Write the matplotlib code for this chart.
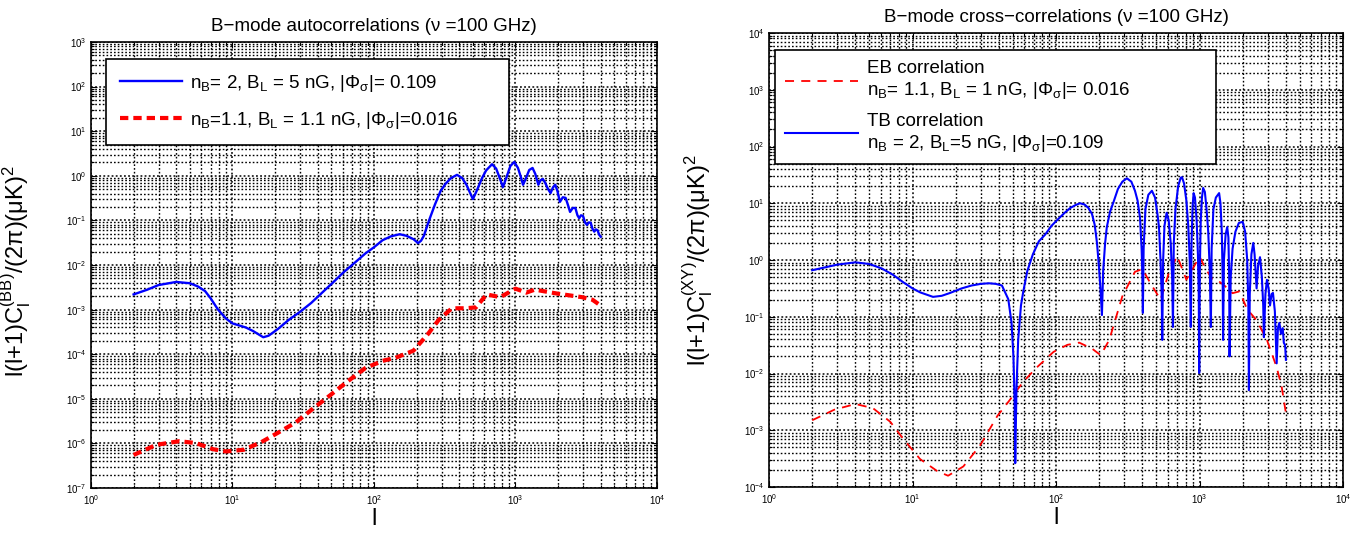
import matplotlib
matplotlib.use("Agg")
import matplotlib.pyplot as plt
from matplotlib.ticker import FixedLocator, LogFormatterMathtext, NullFormatter

plt.rcParams['font.family'] = ['Liberation Sans', 'DejaVu Sans']
plt.rcParams['mathtext.fontset'] = 'custom'
plt.rcParams['mathtext.rm'] = 'Liberation Sans'
plt.rcParams['mathtext.it'] = 'Liberation Sans:italic'
plt.rcParams['mathtext.bf'] = 'Liberation Sans:bold'
plt.rcParams['mathtext.default'] = 'regular'

# ---------------- data: left panel (BB autocorrelation) ----------------
l_bb_a = [2, 2.5, 3, 4, 5, 5.7, 6.4, 7, 7.9, 9, 10, 12.4, 14, 16.5, 18, 21, 25, 30, 36, 43,
          51, 61, 73, 87, 100, 115, 132, 152, 170, 190, 205, 215, 225, 245, 270, 295, 320,
          350, 386, 420, 450, 480, 500, 530, 580, 620, 683, 730, 780, 815, 860, 920, 980,
          1040, 1090, 1130, 1180, 1250, 1320, 1380, 1450, 1500, 1560, 1620, 1700, 1770,
          1840, 1910, 1980, 2060, 2160, 2260, 2350, 2430, 2540, 2650, 2740, 2820, 2900,
          3000, 3100, 3200, 3300, 3400, 3500, 3600, 3700, 3800, 3900, 4000]
c_bb_a = [2.19e-3, 2.8e-3, 3.55e-3, 4.17e-3, 3.9e-3, 3.3e-3, 2.6e-3, 1.8e-3, 1.0e-3,
          6.3e-4, 4.9e-4, 3.98e-4, 3.3e-4, 2.4e-4, 2.6e-4, 3.7e-4, 5.9e-4, 8.9e-4, 1.41e-3,
          2.4e-3, 3.98e-3, 6.9e-3, 1.12e-2, 1.82e-2, 2.5e-2, 3.6e-2, 4.4e-2, 4.9e-2, 4.5e-2,
          3.8e-2, 3.1e-2, 3.5e-2, 4.5e-2, 0.10, 0.23, 0.45, 0.66, 0.89, 1.05, 0.89, 0.63,
          0.40, 0.30, 0.45, 0.89, 1.32, 1.82, 1.45, 0.83, 0.56, 0.89, 1.66, 2.04, 1.51, 0.95,
          0.63, 0.85, 1.35, 1.50, 1.10, 0.63, 0.79, 0.85, 0.70, 0.50, 0.41, 0.55, 0.63, 0.45,
          0.26, 0.33, 0.32, 0.22, 0.155, 0.19, 0.19, 0.13, 0.112, 0.13, 0.126, 0.09, 0.079,
          0.09, 0.089, 0.065, 0.056, 0.063, 0.060, 0.048, 0.043]

l_bb_b = [2, 2.9, 4.2, 5.5, 7.3, 9, 12, 16, 21, 28, 37, 49, 65, 87, 115, 142, 190, 240,
          285, 355, 440, 525, 625, 780, 1000, 1190, 1370, 1950, 2950, 3500, 4000]
c_bb_b = [5.5e-7, 9.3e-7, 1.12e-6, 1.02e-6, 7.4e-7, 6.6e-7, 7.2e-7, 1.07e-6, 1.74e-6,
          2.95e-6, 6.0e-6, 1.2e-5, 2.45e-5, 4.9e-5, 7.1e-5, 8.3e-5, 1.2e-4, 2.8e-4,
          5.75e-4, 1.07e-3, 1.07e-3, 1.12e-3, 2.19e-3, 1.9e-3, 2.95e-3, 2.4e-3, 2.8e-3,
          2.3e-3, 1.9e-3, 1.66e-3, 1.23e-3]

label_bb_a = r"$n_B$= 2, $B_L$ = 5 nG, $|Φ_σ|$= 0.109" + "\u2003" * 4
label_bb_b = r"$n_B$=1.1, $B_L$ = 1.1 nG, $|Φ_σ|$=0.016"

# ---------------- data: right panel (cross-correlations) ----------------
l_eb = [2, 2.85, 4, 5.3, 7, 8.6, 11.3, 14.9, 17.7, 22.6, 29.6, 39, 48, 59, 73, 96, 120,
        145, 178, 205, 235, 290, 355, 400, 450, 535, 615, 700, 810, 900, 1000, 1100, 1220,
        1320, 1500, 1700, 1900, 2150, 2500, 2950, 3450, 3740, 4000]
c_eb = [1.5e-3, 2.3e-3, 2.9e-3, 2.45e-3, 1.41e-3, 7.1e-4, 3.1e-4, 1.9e-4, 1.58e-4, 2.3e-4,
        5.4e-4, 1.78e-3, 3.5e-3, 7.1e-3, 1.26e-2, 2.4e-2, 3.2e-2, 3.5e-2, 2.75e-2, 2.1e-2,
        3.9e-2, 0.23, 0.62, 0.69, 0.41, 0.20, 0.62, 1.17, 0.45, 0.71, 1.15, 0.71, 0.47, 0.45,
        0.35, 0.26, 0.28, 0.135, 0.087, 0.039, 0.0129, 0.0058, 0.0020]

l_tb = [2, 3, 4, 5, 6.1, 7.3, 8.6, 10, 11.3, 13.9, 16, 18.3, 22, 25.8, 30, 34, 38, 42, 46.5,
        49, 50.5, 51.5, 52, 53, 54.5, 57, 59, 63, 69, 76, 84, 93, 103, 115, 126, 137, 147,
        158, 168, 178, 186, 193, 199, 204, 209, 213, 220, 226, 238, 250, 270, 290, 312, 335,
        355, 370, 385, 395, 400, 403, 408, 420, 440, 466, 490, 510, 522, 535, 545, 550, 558,
        570, 590, 610, 630, 645, 653, 662, 680, 710, 740, 755, 780, 810, 835, 855, 870, 880,
        895, 910, 930, 955, 975, 988, 995, 1005, 1020, 1040, 1060, 1090, 1120, 1150, 1180,
        1200, 1215, 1250, 1300, 1370, 1400, 1430, 1450, 1460, 1480, 1520, 1560, 1590, 1610,
        1620, 1650, 1700, 1780, 1880, 2000, 2080, 2150, 2190, 2210, 2240, 2300, 2370, 2420,
        2500, 2560, 2640, 2720, 2780, 2810, 2880, 2950, 3030, 3100, 3180, 3250, 3350, 3450,
        3520, 3600, 3700, 3800, 3870, 3950, 4000]
c_tb = [0.66, 0.83, 0.91, 0.85, 0.71, 0.55, 0.407, 0.316, 0.269, 0.224, 0.234, 0.263, 0.316,
        0.355, 0.38, 0.389, 0.38, 0.355, 0.204, 0.079, 0.02, 3.16e-3, 2.63e-4, 5.0e-3, 3.9e-2,
        0.158, 0.269, 0.63, 1.26, 2.14, 2.8, 4.0, 5.2, 6.8, 8.3, 9.3, 10.0, 9.5, 8.3, 6.5, 4.2,
        2.0, 0.79, 0.316, 0.107, 0.63, 2.0, 3.8, 7.1, 10.0, 17.8, 24.0, 27.5, 24.0, 16.6,
        11.2, 5.6, 1.58, 0.5, 0.117, 1.58, 7.9, 14.1, 16.6, 12.6, 6.3, 3.8, 1.0, 0.251,
        0.039, 1.0, 4.0, 6.8, 5.0, 2.0, 0.5, 0.066, 2.0, 7.9, 20.0, 28.2, 28.8, 22.4, 11.2,
        4.0, 1.0, 0.066, 2.0, 8.9, 15.1, 12.6, 5.0, 1.26, 0.251, 0.0102, 0.63, 5.0, 12.6,
        18.6, 15.8, 7.9, 3.16, 0.63, 0.066, 1.58, 7.9, 12.6, 15.1, 10.0, 3.16, 0.5, 0.039,
        1.0, 2.8, 3.8, 2.5, 0.5, 0.02, 0.5, 1.58, 3.16, 4.5, 4.7, 3.16, 1.0, 0.158, 5.1e-3,
        0.251, 1.26, 2.0, 1.26, 0.316, 0.79, 1.12, 0.5, 0.158, 0.0437, 0.251, 0.447, 0.316,
        0.158, 0.251, 0.263, 0.126, 0.0151, 0.063, 0.078, 0.05, 0.063, 0.0347, 0.0316,
        0.0174]

label_eb = "EB correlation\n" + r"$n_B$= 1.1, $B_L$ = 1 nG, $|Φ_σ|$= 0.016" + "\u2003" * 5
label_tb = "TB correlation\n" + r"$n_B$ = 2, $B_L$=5 nG, $|Φ_σ|$=0.109"

title_left = "B\u2212mode autocorrelations (\u03bd =100 GHz)"
title_right = "B\u2212mode cross\u2212correlations (\u03bd =100 GHz)"
ylabel_left = r"l(l+1)C$_l^{(BB)}$/(2π)(μK)$^2$"
ylabel_right = r"l(l+1)C$_l^{(XY)}$/(2π)(μK)$^2$"

# decade exponents shown on the axes
x_decades = [0, 1, 2, 3, 4]
y_decades_left = [-7, -6, -5, -4, -3, -2, -1, 0, 1, 2, 3]
y_decades_right = [-4, -3, -2, -1, 0, 1, 2, 3, 4]

fig = plt.figure(figsize=(13.52, 5.33), dpi=100)
axL = fig.add_axes([91/1352, (533-488)/533, 566/1352, 446/533])
axR = fig.add_axes([769/1352, (533-487)/533, 574/1352, 454/533])


def decade_ticks(decs):
    major = [10.0 ** d for d in decs]
    minor = [m * 10.0 ** d for d in decs[:-1] for m in range(2, 10)]
    return major, minor


def style(ax, ydecs):
    ax.set_xscale('log')
    ax.set_yscale('log')
    ax.set_xlim(10.0 ** x_decades[0], 10.0 ** x_decades[-1])
    ax.set_ylim(10.0 ** ydecs[0], 10.0 ** ydecs[-1])
    xmaj, xmin = decade_ticks(x_decades)
    ymaj, ymin = decade_ticks(ydecs)
    ax.xaxis.set_major_locator(FixedLocator(xmaj))
    ax.xaxis.set_minor_locator(FixedLocator(xmin))
    ax.yaxis.set_major_locator(FixedLocator(ymaj))
    ax.yaxis.set_minor_locator(FixedLocator(ymin))
    ax.xaxis.set_major_formatter(LogFormatterMathtext())
    ax.yaxis.set_major_formatter(LogFormatterMathtext())
    ax.xaxis.set_minor_formatter(NullFormatter())
    ax.yaxis.set_minor_formatter(NullFormatter())
    ax.grid(True, which='major', color='k', linestyle=(0, (1.2, 1.5)), linewidth=1.1)
    ax.grid(True, which='minor', color='k', linestyle=(0, (1.2, 1.5)), linewidth=1.0)
    ax.tick_params(which='both', direction='in', top=True, right=True, labelsize=7,
                   colors='k', width=0.8)
    ax.tick_params(which='major', length=4)
    ax.tick_params(which='minor', length=2)
    for s in ax.spines.values():
        s.set_linewidth(1.2)
        s.set_color('k')
    ax.set_axisbelow(True)


style(axL, y_decades_left)
axL.plot(l_bb_a, c_bb_a, color='#0000ff', lw=1.7, label=label_bb_a)
axL.plot(l_bb_b, c_bb_b, color='#ff0000', lw=3.0, linestyle=(0, (2.0, 1.2)), label=label_bb_b)
axL.set_title(title_left, fontsize=13.5, pad=8)
axL.set_xlabel("l", fontsize=17)
axL.xaxis.set_label_coords(0.5, -0.045)
axL.set_ylabel(ylabel_left, fontsize=17)
axL.yaxis.set_label_coords(-0.1025, 0.487)
legL = axL.legend(loc='upper left', bbox_to_anchor=(0.0265, 0.962), borderaxespad=0,
                  fontsize=13.5, handlelength=3.3, frameon=True, fancybox=False,
                  edgecolor='k', framealpha=1, borderpad=0.75, labelspacing=0.85,
                  handletextpad=0.43)
legL.get_frame().set_linewidth(1.2)

style(axR, y_decades_right)
axR.plot(l_eb, c_eb, color='#ff0000', lw=1.3, linestyle=(0, (5, 4)), label=label_eb)
axR.plot(l_tb, c_tb, color='#0000ff', lw=1.5, label=label_tb)
axR.set_title(title_right, fontsize=13.5, pad=8)
axR.set_xlabel("l", fontsize=17)
axR.xaxis.set_label_coords(0.5, -0.043)
axR.set_ylabel(ylabel_right, fontsize=17)
axR.yaxis.set_label_coords(-0.094, 0.5)
legR = axR.legend(loc='upper left', bbox_to_anchor=(0.0105, 0.9626), borderaxespad=0,
                  fontsize=13.5, handlelength=3.85, frameon=True, fancybox=False,
                  edgecolor='k', framealpha=1, borderpad=0.55, labelspacing=0.6,
                  handletextpad=0.5)
legR.get_frame().set_linewidth(1.2)

fig.savefig("out.png", dpi=100)
